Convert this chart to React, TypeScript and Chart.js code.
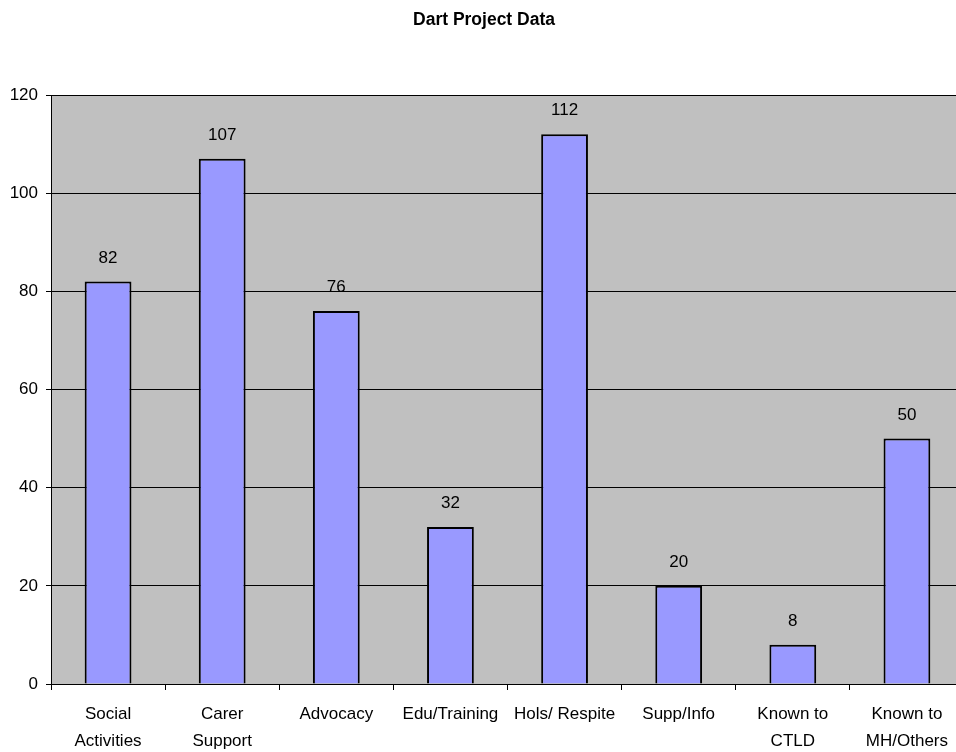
import React, { useEffect, useRef } from "react";
import { Chart, registerables } from "chart.js";

Chart.register(...registerables);

const TITLE = "Dart Project Data";
const categories: string[][] = [
  ["Social", "Activities"],
  ["Carer", "Support"],
  ["Advocacy"],
  ["Edu/Training"],
  ["Hols/ Respite"],
  ["Supp/Info"],
  ["Known to", "CTLD"],
  ["Known to", "MH/Others"],
];
const counts: number[] = [82, 107, 76, 32, 112, 20, 8, 50];
const yTicks: number[] = [0, 20, 40, 60, 80, 100, 120];

const FONT = "'Liberation Sans', Arial, Helvetica, sans-serif";
const CANVAS_W = 972;
const CANVAS_H = 752;

const plotBackground = {
  id: "plotBackground",
  beforeDraw(chart: any) {
    const { ctx, chartArea } = chart;
    ctx.save();
    ctx.fillStyle = "#C0C0C0";
    ctx.fillRect(chartArea.left, chartArea.top, chartArea.right - chartArea.left, chartArea.bottom - chartArea.top);
    ctx.restore();
  },
};

const titleAndValues = {
  id: "titleAndValues",
  afterDatasetsDraw(chart: any) {
    const { ctx } = chart;
    ctx.save();
    ctx.fillStyle = "#000";
    ctx.textAlign = "center";
    ctx.textBaseline = "alphabetic";
    ctx.font = `bold 17.5px ${FONT}`;
    ctx.fillText(TITLE, 484, 25);
    ctx.font = `17px ${FONT}`;
    const meta = chart.getDatasetMeta(0);
    meta.data.forEach((bar: any, i: number) => {
      ctx.fillText(String(counts[i]), bar.x, bar.y - 19);
    });
    ctx.restore();
  },
};

export default function App() {
  const ref = useRef<HTMLCanvasElement | null>(null);

  useEffect(() => {
    if (!ref.current) return;
    const chart = new Chart(ref.current, {
      type: "bar",
      data: {
        labels: categories,
        datasets: [
          {
            data: counts,
            backgroundColor: "#9999FF",
            borderColor: "#000000",
            borderWidth: 2,
            barPercentage: 0.41,
            categoryPercentage: 1,
          },
        ],
      },
      options: {
        responsive: false,
        animation: false,
        layout: { padding: { top: 95, left: 0, right: CANVAS_W - 964, bottom: 0 } },
        plugins: {
          legend: { display: false },
          title: { display: false },
          tooltip: { enabled: false },
        },
        scales: {
          x: {
            afterFit(scale: any) {
              scale.height = 68;
            },
            grid: {
              display: true,
              offset: true,
              drawOnChartArea: false,
              drawTicks: true,
              tickLength: 6,
              color: "#000",
            },
            border: { display: true, color: "#000", width: 1 },
            ticks: {
              color: "#000",
              padding: 11,
              maxRotation: 0,
              autoSkip: false,
              font: { family: FONT, size: 17, lineHeight: 1.6 },
            },
          },
          y: {
            min: 0,
            max: 120,
            afterFit(scale: any) {
              scale.width = 51;
            },
            afterBuildTicks(scale: any) {
              scale.ticks = yTicks.map((v) => ({ value: v }));
            },
            grid: {
              color: "#000",
              lineWidth: 1,
              drawTicks: true,
              tickLength: 5,
            },
            border: { display: true, color: "#000", width: 1 },
            ticks: {
              color: "#000",
              padding: 8,
              font: { family: FONT, size: 17 },
            },
          },
        },
      },
      plugins: [plotBackground, titleAndValues],
    });
    return () => chart.destroy();
  }, []);

  return (
    <div
      style={{
        position: "fixed",
        left: 0,
        top: 0,
        width: 956,
        height: 752,
        overflow: "hidden",
        background: "#fff",
      }}
    >
      <canvas ref={ref} width={CANVAS_W} height={CANVAS_H} style={{ display: "block" }} />
    </div>
  );
}
